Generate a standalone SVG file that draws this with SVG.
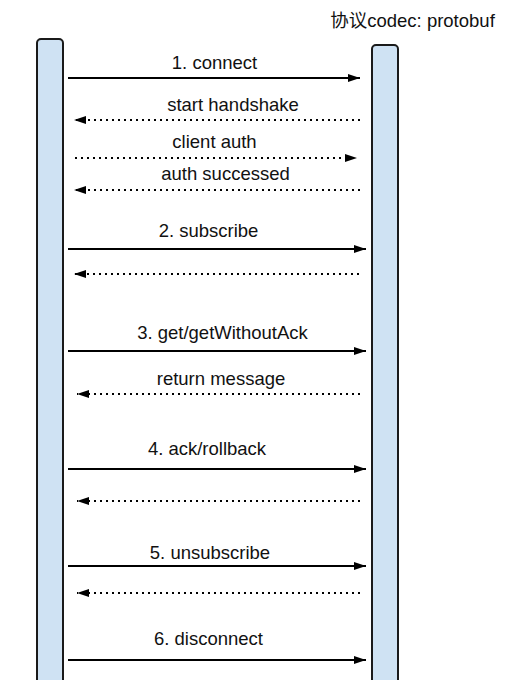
<svg xmlns="http://www.w3.org/2000/svg" width="506" height="680" viewBox="0 0 506 680">
<style>
text{font-family:"Liberation Sans","Noto Sans CJK SC",Arial,sans-serif;font-size:18.5px;fill:#111;text-anchor:middle}
.bar{fill:#cfe2f3;stroke:#1a1a1a;stroke-width:2}
.solid{stroke:#000;stroke-width:2;fill:none;marker-end:url(#ah)}
.dot{stroke:#000;stroke-width:2;fill:none;stroke-dasharray:2 4;marker-end:url(#ah)}
</style>
<defs>
<marker id="ah" viewBox="0 0 12 8" markerWidth="12" markerHeight="8" markerUnits="userSpaceOnUse" refX="12" refY="4" orient="auto">
<path d="M0,0 L12,4 L0,8 z" fill="#000"/>
</marker>
</defs>
<rect width="506" height="680" fill="#fff"/>
<text x="412.5" y="27">协议codec: protobuf</text>
<g id="client"><rect class="bar" x="37" y="39" width="26" height="660" rx="4"/></g>
<g id="server"><rect class="bar" x="372" y="45" width="26" height="660" rx="4"/></g>
<g id="connectors">
<path class="solid" d="M68,78 H360"/>
<text x="214.5" y="69">1. connect</text>
<path class="dot" d="M360,120 H74"/>
<text x="233" y="111">start handshake</text>
<path class="dot" d="M75,158 H357"/>
<text x="214.5" y="148">client auth</text>
<path class="dot" d="M360,190 H74"/>
<text x="225.5" y="180">auth successed</text>
<path class="solid" d="M68,249 H366"/>
<text x="208.5" y="237">2. subscribe</text>
<path class="dot" d="M359,274 H74"/>
<path class="solid" d="M68,351 H366"/>
<text x="222.5" y="339">3. get/getWithoutAck</text>
<path class="dot" d="M360,394 H77"/>
<text x="221" y="385">return message</text>
<path class="solid" d="M68,469 H366"/>
<text x="207" y="455">4. ack/rollback</text>
<path class="dot" d="M360,501 H77"/>
<path class="solid" d="M68,566 H366"/>
<text x="210" y="559">5. unsubscribe</text>
<path class="dot" d="M360,593 H77"/>
<path class="solid" d="M68,660 H366"/>
<text x="208.5" y="645">6. disconnect</text>
</g>
</svg>
